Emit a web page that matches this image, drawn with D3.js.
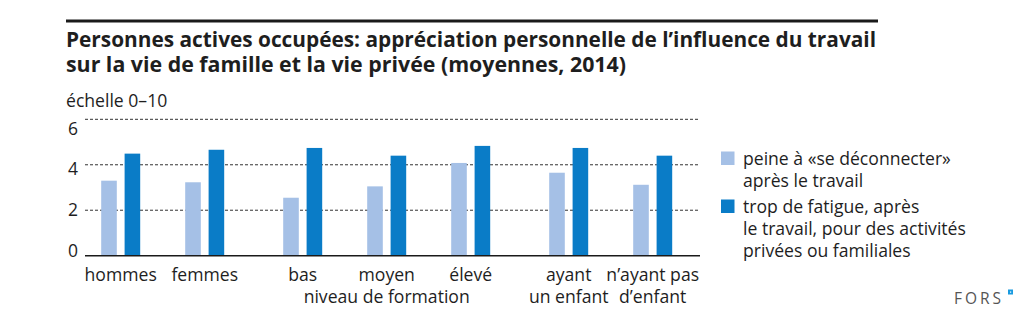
<!DOCTYPE html>
<html><head><meta charset="utf-8">
<script src="https://cdn.jsdelivr.net/npm/d3@7"></script>
<style>body{margin:0;background:#fff} svg text{font-family:"Open Sans",sans-serif;fill:#1e1e1e}</style>
</head><body><svg id="c" width="1035" height="325"></svg>
<script>
const titleLines = ["Personnes actives occupées: appréciation personnelle de l’influence du travail", "sur la vie de famille et la vie privée (moyennes, 2014)"];
const yUnit = "échelle 0–10";
const groups = [["hommes","femmes"],["bas","moyen","élevé"],["ayant","n’ayant pas"]];
const categories = ["hommes","femmes","bas","moyen","élevé","ayant","n’ayant pas"];
const catLabels = [["hommes"],["femmes"],["bas"],["moyen"],["élevé"],["ayant","un enfant"],["n’ayant pas","d’enfant"]];
const groupLabels = [null, "niveau de formation", null];
const seriesKeys = ["peine","fatigue"];
const seriesLegend = [["peine à «se déconnecter»","après le travail"],["trop de fatigue, après","le travail, pour des activités","privées ou familiales"]];
const peine = [3.30, 3.23, 2.55, 3.05, 4.08, 3.65, 3.12];
const fatigue = [4.49, 4.66, 4.74, 4.40, 4.83, 4.74, 4.40];
const yTicks = [0, 2, 4, 6];
const colors = {peine: "#a5c0e6", fatigue: "#0a7cc7"};

const svg = d3.select("#c");
const values = {peine, fatigue};
const W = 380; // body text weight
const FS = 17.6;

// title
svg.append("rect").attr("x",66).attr("y",19.5).attr("width",812).attr("height",3).attr("fill","#1a1a1a");
const tW = [810, 560];
const title = svg.append("text")
  .style("font-family","'Liberation Sans Narrow','Open Sans',sans-serif")
  .attr("font-weight","bold").attr("font-size",20.5);
titleLines.forEach((t,i)=>{
  title.append("tspan").attr("x",66).attr("y",47+i*25).text(t)
    .attr("textLength",tW[i]).attr("lengthAdjust","spacingAndGlyphs");
});
svg.append("text").attr("x",66).attr("y",107).attr("font-size",FS).attr("font-weight",W).text(yUnit);

// scales
const gap = 14/84;
const slot = [];
groups.forEach((g,gi)=>g.forEach(()=>slot.push(slot.length + gi*gap)));
const x = d3.scaleLinear().domain([0, slot[slot.length-1]]).range([120.7, 652.7]);
const sub = d3.scaleBand().domain(seriesKeys).range([-19.5,19.5]).paddingInner(1/3);
const y = d3.scaleLinear().domain([0,6]).range([255.7,119.3]);
const yLab = d3.scaleLinear().domain([0,6]).range([250.5,128.5]);

// grid
svg.append("g").selectAll("line").data(yTicks.filter(d=>d>0)).join("line")
  .attr("x1",85).attr("x2",700).attr("y1",d=>y(d)).attr("y2",d=>y(d))
  .attr("stroke","#333").attr("stroke-width",1).attr("stroke-dasharray","3,2");

// y labels via axis
const ya = svg.append("g").attr("transform","translate(78,0)")
  .call(d3.axisLeft(yLab).tickValues(yTicks).tickSize(0).tickPadding(0).tickFormat(d3.format("d")));
ya.select(".domain").remove();
ya.selectAll("text").attr("font-size",17.5).attr("font-weight",W).style("font-family","'Open Sans',sans-serif").attr("fill","#1e1e1e");

// bars
categories.forEach((c,i)=>{
  seriesKeys.forEach(k=>{
    const v = values[k][i];
    svg.append("rect").attr("x",x(slot[i])+sub(k)).attr("width",sub.bandwidth())
      .attr("y",y(v)).attr("height",y(0)-y(v)).attr("fill",colors[k]);
  });
});

// baseline
svg.append("line").attr("x1",85).attr("x2",700).attr("y1",y(0)).attr("y2",y(0))
  .attr("stroke","#1a1a1a").attr("stroke-width",1.6);

// x labels
categories.forEach((c,i)=>{
  catLabels[i].forEach((l,j)=>{
    svg.append("text").attr("x",x(slot[i])).attr("y",281+j*22).attr("text-anchor","middle")
      .attr("font-size",FS).attr("font-weight",W).text(l);
  });
});
let off = 0;
groups.forEach((g,gi)=>{
  if (groupLabels[gi]) {
    const mid = slot[off + Math.floor(g.length/2)];
    svg.append("text").attr("x",x(mid)).attr("y",303).attr("text-anchor","middle")
      .attr("font-size",FS).attr("font-weight",W).text(groupLabels[gi]);
  }
  off += g.length;
});

// legend
const legY = [151.5, 199.5];
seriesKeys.forEach((k,i)=>{
  svg.append("rect").attr("x",721).attr("y",legY[i]).attr("width",13.5).attr("height",13.5).attr("fill",colors[k]);
  seriesLegend[i].forEach((l,j)=>{
    svg.append("text").attr("x",743).attr("y",legY[i]+13.5+j*22).attr("font-size",FS).attr("font-weight",W).text(l);
  });
});

// FORS
svg.append("text").attr("x",954).attr("y",304).attr("font-size",15.5).attr("letter-spacing",3)
  .style("fill","#555").attr("font-weight",W).text("FORS");
svg.append("rect").attr("x",1008).attr("y",289.5).attr("width",5).attr("height",5).attr("fill","#1a9be0");
svg.append("rect").attr("x",1010).attr("y",291.5).attr("width",1.2).attr("height",1.2).attr("fill","#fff");
</script></body></html>
